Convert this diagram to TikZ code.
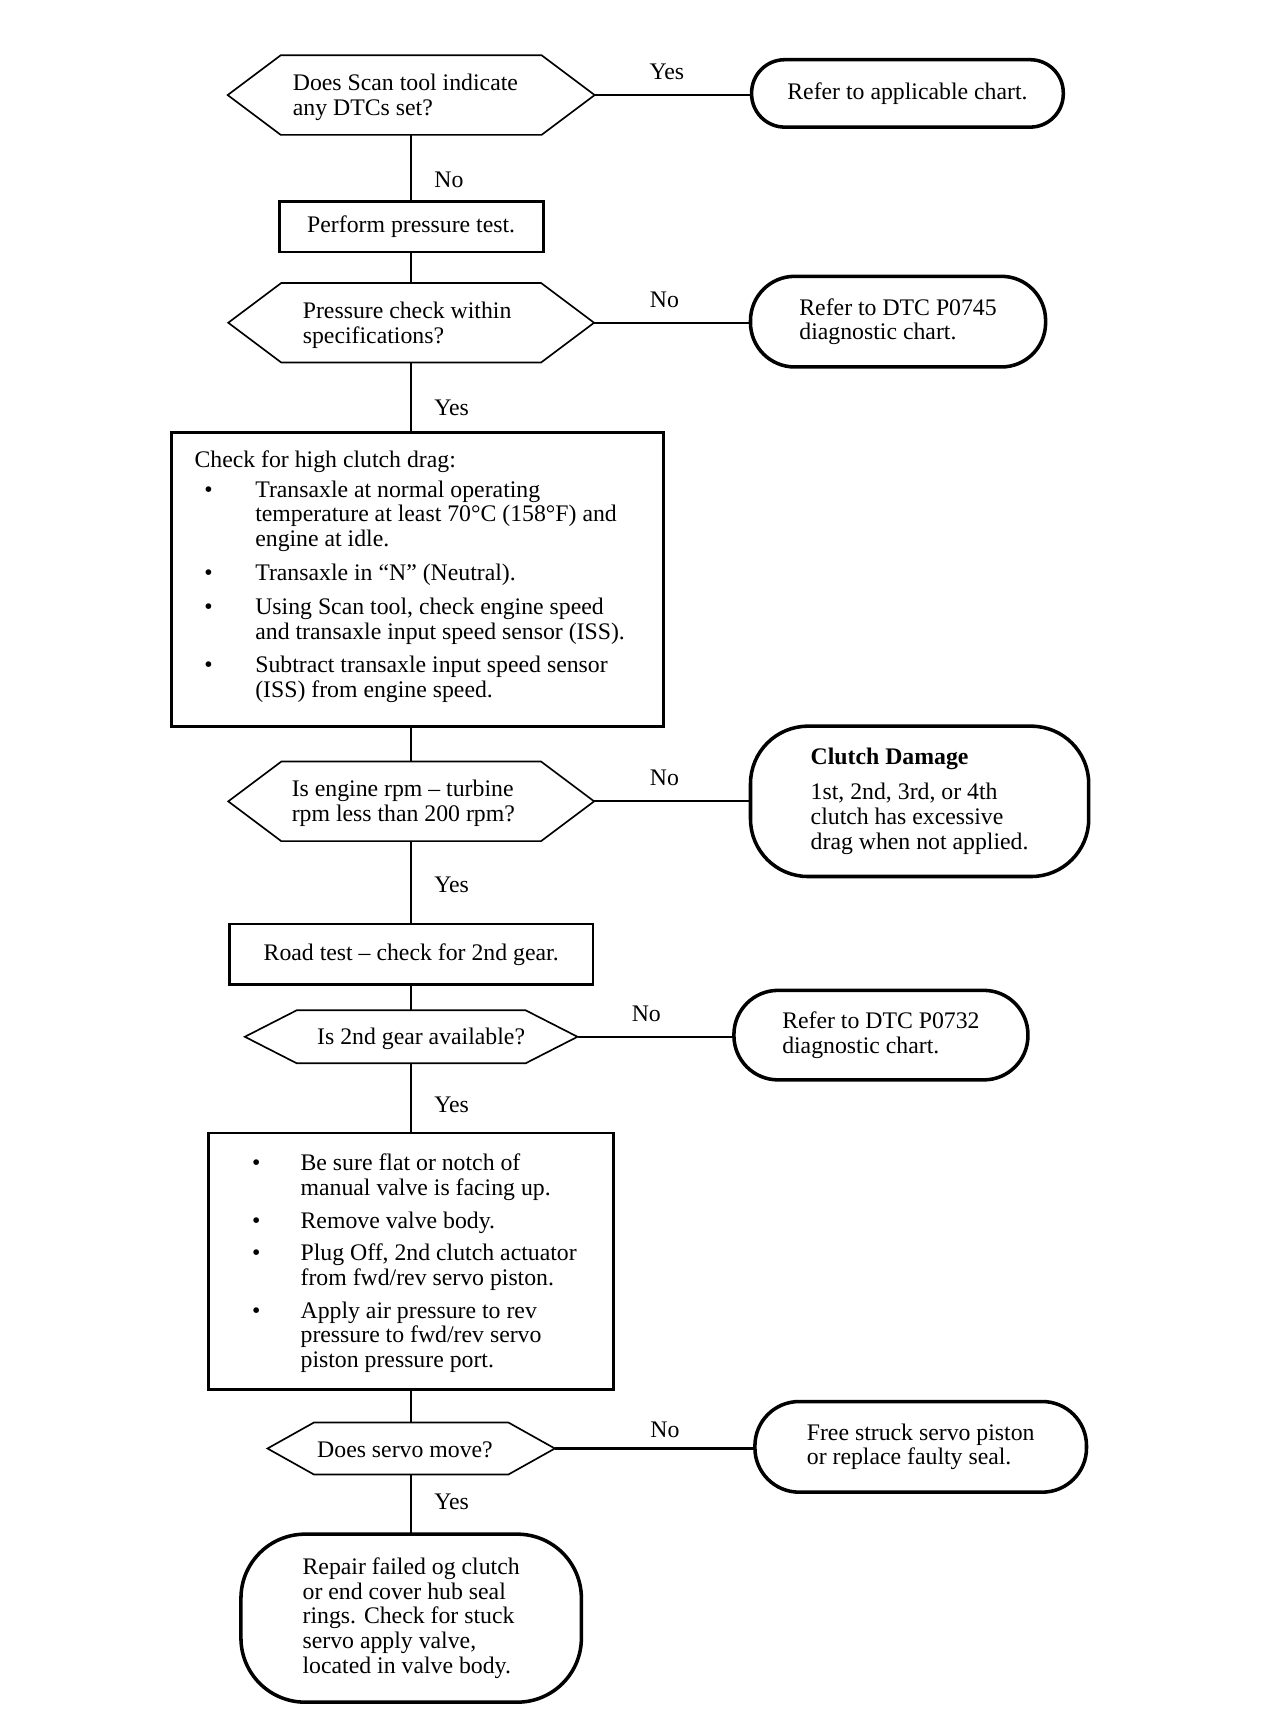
\documentclass[tikz,border=0pt]{standalone}
\usepackage{fontspec}
\setmainfont{Liberation Serif}
\newcommand{\hexpath}[2]{\draw[hexline] (#1.west) -- ([xshift=#2]#1.north west) -- ([xshift=-#2]#1.north east) -- (#1.east) -- ([xshift=-#2]#1.south east) -- ([xshift=#2]#1.south west) -- cycle;}
\begin{document}
\begin{tikzpicture}[x=1pt,y=-1pt,
  font=\fontsize{21.5}{22.5}\selectfont,
  every node/.style={inner sep=0pt, outer sep=0pt},
  hexnode/.style={rectangle, draw=none},
  hexline/.style={line width=1.5pt, line join=miter},
  boxnode/.style={rectangle, draw, line width=2.6pt},
  termnode/.style={rectangle, draw, line width=3.2pt, rounded corners=#1, align=left},
  conn/.style={line width=2pt},
  lbl/.style={inner sep=0pt},
  txt/.style={align=left, inner sep=0pt}]
\useasboundingbox (0,0) rectangle (1144,1567);

% decision 1
\node[hexnode, minimum width=332pt, minimum height=72pt] (d1) at (372,86) {};
\hexpath{d1}{48pt}
\node[txt, anchor=west] (d1t) at (265,88) {Does Scan tool indicate\\any DTCs set?};
\node[termnode=30pt, minimum width=282pt, minimum height=61pt] (s1) at (821,84.5) {Refer to applicable chart.};

\node[boxnode, minimum width=239pt, minimum height=46pt] (b1) at (372,205) {Perform pressure test.};

% decision 2
\node[hexnode, minimum width=331pt, minimum height=72pt] (d2) at (372,292) {};
\hexpath{d2}{48pt}
\node[txt, anchor=west] (d2t) at (274,294) {Pressure check within\\specifications?};
\node[termnode=40pt, minimum width=267pt, minimum height=82pt] (s2) at (812.5,291) {Refer to DTC P0745\\diagnostic chart.};

% big box 1
\node[boxnode, minimum width=445pt, minimum height=266pt] (bb1) at (377.5,524) {};
\node[txt, anchor=west] (bb1t) at (176,522) {Check for high clutch drag:\\[4pt]
\hspace*{9pt}\makebox[46pt][l]{\textbullet}Transaxle at normal operating\\
\hspace*{55pt}temperature at least 70°C (158°F) and\\
\hspace*{55pt}engine at idle.\\[8pt]
\hspace*{9pt}\makebox[46pt][l]{\textbullet}Transaxle in “N” (Neutral).\\[8pt]
\hspace*{9pt}\makebox[46pt][l]{\textbullet}Using Scan tool, check engine speed\\
\hspace*{55pt}and transaxle input speed sensor (ISS).\\[8pt]
\hspace*{9pt}\makebox[46pt][l]{\textbullet}Subtract transaxle input speed sensor\\
\hspace*{55pt}(ISS) from engine speed.};

% decision 3
\node[hexnode, minimum width=331pt, minimum height=72pt] (d3) at (372,725) {};
\hexpath{d3}{48pt}
\node[txt, anchor=west] (d3t) at (264,726.5) {Is engine rpm -- turbine\\rpm less than 200 rpm?};
\node[termnode=52pt, minimum width=306pt, minimum height=136pt] (s3) at (832,725) {\textbf{Clutch Damage}\\[9pt]1st, 2nd, 3rd, or 4th\\clutch has excessive\\drag when not applied.};

\node[boxnode, minimum width=329pt, minimum height=55pt] (b2) at (372,863.5) {Road test -- check for 2nd gear.};

% decision 4
\node[hexnode, minimum width=301pt, minimum height=48pt] (d4) at (372,938) {};
\hexpath{d4}{47pt}
\node[txt, anchor=west] (d4t) at (287,940) {Is 2nd gear available?};
\node[termnode=40pt, minimum width=266pt, minimum height=81pt] (s4) at (797,936.5) {Refer to DTC P0732\\diagnostic chart.};

% big box 2
\node[boxnode, minimum width=366pt, minimum height=232pt] (bb2) at (372,1141) {};
\node[txt, anchor=west] (bb2t) at (228,1143) {\makebox[44pt][l]{\textbullet}Be sure flat or notch of\\
\hspace*{44pt}manual valve is facing up.\\[7pt]
\makebox[44pt][l]{\textbullet}Remove valve body.\\[7pt]
\makebox[44pt][l]{\textbullet}Plug Off, 2nd clutch actuator\\
\hspace*{44pt}from fwd/rev servo piston.\\[7pt]
\makebox[44pt][l]{\textbullet}Apply air pressure to rev\\
\hspace*{44pt}pressure to fwd/rev servo\\
\hspace*{44pt}piston pressure port.};

% decision 5
\node[hexnode, minimum width=260pt, minimum height=47pt] (d5) at (372,1310.5) {};
\hexpath{d5}{42pt}
\node[txt, anchor=west] (d5t) at (287,1312) {Does servo move?};
\node[termnode=40pt, minimum width=300pt, minimum height=82pt] (s5) at (833,1309) {Free struck servo piston\\or replace faulty seal.};

\node[termnode=58pt, minimum width=308pt, minimum height=152pt] (s6) at (372,1464) {Repair failed og clutch\\or end cover hub seal\\rings. Check for stuck\\servo apply valve,\\located in valve body.};

% connectors
\draw[conn] (d1.east) -- node[lbl, pos=0.46, above=14pt] {Yes} (d1.east -| s1.west);
\draw[conn] (d1.south) -- node[lbl, pos=0.68, right=21pt] {No} (d1.south |- b1.north);
\draw[conn] (b1.south) -- (b1.south |- d2.north);
\draw[conn] (d2.east) -- node[lbl, pos=0.45, above=14pt] {No} (d2.east -| s2.west);
\draw[conn] (d2.south) -- node[lbl, pos=0.65, right=21pt] {Yes} (d2.south |- bb1.north);
\draw[conn] (bb1.south -| d3.north) -- (d3.north);
\draw[conn] (d3.east) -- node[lbl, pos=0.45, above=14pt] {No} (d3.east -| s3.west);
\draw[conn] (d3.south) -- node[lbl, pos=0.53, right=21pt] {Yes} (d3.south |- b2.north);
\draw[conn] (b2.south) -- (b2.south |- d4.north);
\draw[conn] (d4.east) -- node[lbl, pos=0.44, above=14pt] {No} (d4.east -| s4.west);
\draw[conn] (d4.south) -- node[lbl, pos=0.6, right=21pt] {Yes} (d4.south |- bb2.north);
\draw[conn] (bb2.south) -- (bb2.south |- d5.north);
\draw[conn] (d5.east) -- node[lbl, pos=0.55, above=10pt] {No} (d5.east -| s5.west);
\draw[conn] (d5.south) -- node[lbl, pos=0.46, right=21pt] {Yes} (d5.south |- s6.north);
\end{tikzpicture}
\end{document}
